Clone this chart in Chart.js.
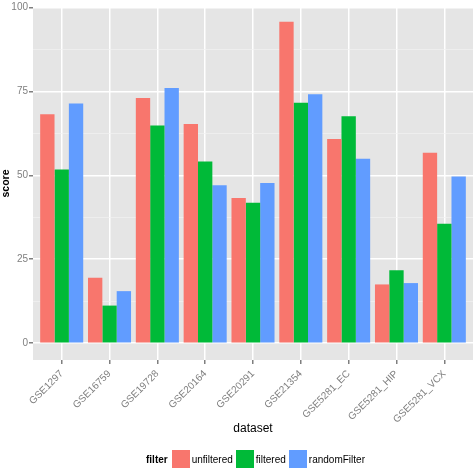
<!DOCTYPE html>
<html>
<head>
<meta charset="utf-8">
<script src="https://cdn.jsdelivr.net/npm/chart.js@4/dist/chart.umd.min.js"></script>
<style>
  body { margin: 0; background: #fff; font-family: "Liberation Sans", Arial, sans-serif; }
  #wrap { position: relative; width: 473px; height: 468px; }
  #legend { position: absolute; left: 146px; top: 450px; height: 18px; display: flex; align-items: center; font-size: 10px; color: #000; }
  #legend b { margin-right: 4px; }
  #legend .box { width: 18px; height: 18px; margin-right: 2px; }
  #legend .lab { margin-right: 3px; }
</style>
</head>
<body>
<div id="wrap">
  <canvas id="myChart" width="473" height="468"></canvas>
  <div id="legend"><b>filter</b></div>
</div>
<script>
var datasets = ['GSE1297', 'GSE16759', 'GSE19728', 'GSE20164', 'GSE20291', 'GSE21354', 'GSE5281_EC', 'GSE5281_HIP', 'GSE5281_VCX'];
var unfiltered = [68.2, 19.5, 73.0, 65.3, 43.2, 95.7, 60.8, 17.5, 56.7];
var filtered = [51.7, 11.2, 64.8, 54.1, 41.8, 71.6, 67.6, 21.7, 35.6];
var randomFilter = [71.4, 15.5, 76.0, 47.0, 47.7, 74.1, 54.9, 17.9, 49.6];
var yTicks = [0, 12.5, 25, 37.5, 50, 62.5, 75, 87.5, 100];

var seriesNames = ['unfiltered', 'filtered', 'randomFilter'];
var seriesData = [unfiltered, filtered, randomFilter];
var renkler = ['#F8766D', '#00BA38', '#619CFF'];

function noktalar(arr) {
    return arr.map(function (v, i) { return { x: i, y: v }; });
}

// panel arka plani (ggplot gri)
var panelBg = {
    id: 'panelBg',
    beforeDraw: function (chart) {
        var a = chart.chartArea;
        var c = chart.ctx;
        c.save();
        c.fillStyle = '#E5E5E5';
        c.fillRect(a.left, a.top, a.right - a.left, a.bottom - a.top);
        c.restore();
    }
};

var ctx = document.getElementById('myChart').getContext('2d');
var myChart = new Chart(ctx, {
    type: 'bar',
    data: {
        datasets: seriesNames.map(function (n, k) {
            return {
                label: n,
                data: noktalar(seriesData[k]),
                backgroundColor: renkler[k],
                borderWidth: 0,
                categoryPercentage: 0.9,
                barPercentage: 1.0
            };
        })
    },
    options: {
        responsive: false,
        animation: false,
        layout: { padding: { top: 4, right: 0, left: 0, bottom: 28 } },
        plugins: {
            legend: { display: false },
            tooltip: { enabled: false }
        },
        scales: {
            x: {
                type: 'linear',
                min: -0.6,
                max: 8.6,
                offset: false,
                afterBuildTicks: function (s) {
                    s.ticks = datasets.map(function (d, i) { return { value: i }; });
                },
                afterFit: function (s) { s.height = 80; },
                border: { display: false },
                grid: { color: '#FFFFFF', lineWidth: 1.5, tickLength: 4, tickColor: '#7F7F7F', offset: false },
                ticks: {
                    color: '#7F7F7F',
                    font: { family: 'Liberation Sans', size: 10 },
                    minRotation: 45,
                    maxRotation: 45,
                    padding: 4,
                    autoSkip: false,
                    callback: function (v) { return datasets[v]; }
                },
                title: {
                    display: true,
                    text: 'dataset',
                    color: '#000',
                    font: { family: 'Liberation Sans', size: 12 },
                    padding: { top: 0, bottom: 4 }
                }
            },
            y: {
                min: -5,
                max: 100.1,
                afterBuildTicks: function (s) {
                    s.ticks = yTicks.map(function (v) { return { value: v }; });
                },
                afterFit: function (s) { s.width = 33; },
                border: { display: false },
                grid: {
                    color: function (c) { return c.tick && c.tick.value % 25 === 0 ? '#FFFFFF' : '#F2F2F2'; },
                    lineWidth: function (c) { return c.tick && c.tick.value % 25 === 0 ? 1.5 : 0.7; },
                    tickLength: 4,
                    tickColor: function (c) { return c.tick && c.tick.value % 25 === 0 ? '#7F7F7F' : 'rgba(0,0,0,0)'; }
                },
                ticks: {
                    color: '#7F7F7F',
                    font: { family: 'Liberation Sans', size: 10 },
                    padding: 1,
                    callback: function (v) { return v % 25 === 0 ? String(v) : ''; }
                },
                title: {
                    display: true,
                    text: 'score',
                    color: '#000',
                    font: { family: 'Liberation Sans', size: 10.5, weight: 'bold' },
                    padding: { top: 0, bottom: 0 }
                }
            }
        }
    },
    plugins: [panelBg]
});

// legend (html)
var lg = document.getElementById('legend');
seriesNames.forEach(function (n, k) {
    var b = document.createElement('span');
    b.className = 'box';
    b.style.background = renkler[k];
    lg.appendChild(b);
    var t = document.createElement('span');
    t.className = 'lab';
    t.textContent = n;
    lg.appendChild(t);
});
</script>
</body>
</html>
